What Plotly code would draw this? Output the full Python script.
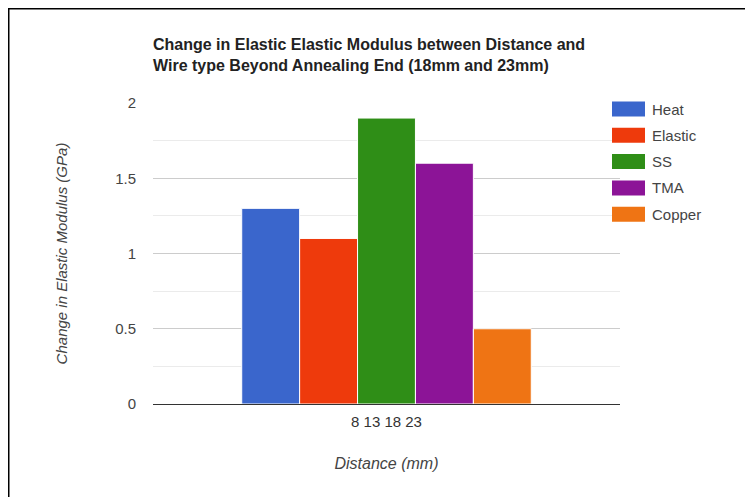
import plotly.graph_objects as go

categories = ["8 13 18 23"]
series_names = ["Heat", "Elastic", "SS", "TMA", "Copper"]
series_values = [[1.3], [1.1], [1.9], [1.6], [0.5]]
series_colors = ["#3a66cc", "#ee3a0c", "#2f8e17", "#8c1497", "#ef7414"]
y_ticks = [0, 0.5, 1, 1.5, 2]
y_tick_labels = ["0", "0.5", "1", "1.5", "2"]

# page body adds an 8px offset; figure sized to fit window
OFF = 8
W, H = 753 - OFF, 497 - OFF
ML, MT = 153 - OFF, 103 - OFF
MR = W - (620 - OFF)
MB = H - (404 - OFF)

fig = go.Figure()
for name, vals, col in zip(series_names, series_values, series_colors):
    fig.add_trace(go.Bar(x=categories, y=vals, name=name, marker_color=col,
                         marker_line_color="white", marker_line_width=1,
                         showlegend=False))

font_family = "Liberation Sans, Arial, sans-serif"
fig.update_layout(
    width=W, height=H,
    margin=dict(l=ML, r=MR, t=MT, b=MB),
    paper_bgcolor="white", plot_bgcolor="white",
    barmode="group", bargap=0.38, bargroupgap=0,
    font=dict(family=font_family, size=15, color="#444"),
    title=dict(text="<b>Change in Elastic Elastic Modulus between Distance and<br>Wire type Beyond Annealing End (18mm and 23mm)</b>",
               x=ML / W, xanchor="left", y=1 - (50 - OFF) / H, yanchor="top",
               font=dict(size=16, color="#222", family=font_family)),
    xaxis=dict(showgrid=False, showline=True, linecolor="#333", linewidth=1,
               ticks="", ticklabelstandoff=4,
               tickfont=dict(size=15, color="#333"),
               title=dict(text="<i>Distance (mm)</i>", standoff=28,
                          font=dict(size=16, color="#444"))),
    yaxis=dict(range=[0, 2], tickvals=y_ticks, ticktext=y_tick_labels,
               showgrid=True, gridcolor="#cccccc", gridwidth=1,
               zeroline=True, zerolinecolor="#333", zerolinewidth=1,
               ticks="", ticklabelstandoff=16,
               tickfont=dict(size=15, color="#444"),
               minor=dict(dtick=0.25, showgrid=True, gridcolor="#ebebeb"),
               title=dict(text="<i>Change in Elastic Modulus (GPa)</i>", standoff=43,
                          font=dict(size=15, color="#444"))),
    showlegend=False,
)

PW = W - ML - MR
PH = H - MT - MB


def px(x):
    return (x - OFF - ML) / PW


def py(y):
    return (H - MB - (y - OFF)) / PH


# custom legend (large swatches as in reference)
shapes = []
annotations = []
x0, sw, sh = 612, 33, 15
y_start, step = 109, 26.3
for i, (name, col) in enumerate(zip(series_names, series_colors)):
    yc = y_start + i * step
    shapes.append(dict(type="rect", xref="paper", yref="paper",
                       x0=px(x0), x1=px(x0 + sw),
                       y0=py(yc + sh / 2), y1=py(yc - sh / 2),
                       fillcolor=col, line=dict(width=0)))
    annotations.append(dict(xref="paper", yref="paper",
                            x=px(x0 + sw + 5), y=py(yc),
                            text=name, showarrow=False, xanchor="left", yanchor="middle",
                            font=dict(size=15, color="#444")))

# page frame (top and left lines)
shapes.append(dict(type="line", xref="paper", yref="paper",
                   x0=px(7), x1=px(760), y0=py(8), y1=py(8),
                   line=dict(color="black", width=3)))
shapes.append(dict(type="line", xref="paper", yref="paper",
                   x0=px(8), x1=px(8), y0=py(7), y1=py(510),
                   line=dict(color="black", width=3)))

fig.update_layout(shapes=shapes, annotations=annotations)
fig.write_html("out.html")
